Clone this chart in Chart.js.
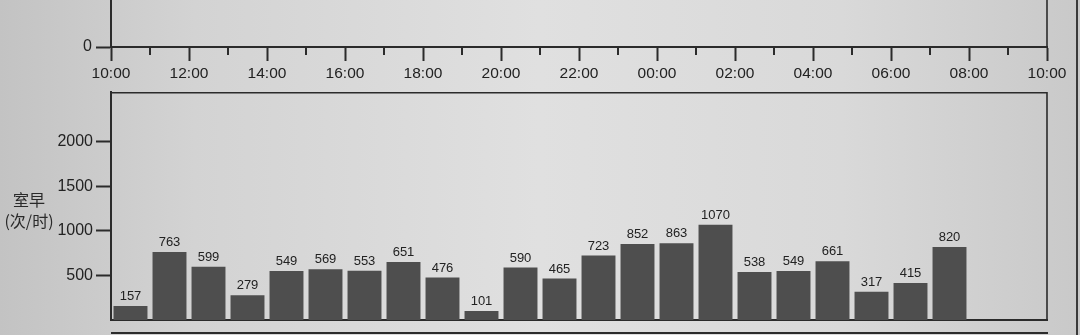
<!DOCTYPE html>
<html>
<head>
<meta charset="utf-8">
<script src="https://cdn.jsdelivr.net/npm/chart.js@4"></script>
<style>
html,body{margin:0;padding:0;}
body{width:1080px;height:335px;overflow:hidden;position:relative;
  background:linear-gradient(90deg,#c3c3c3 0%,#d3d3d3 18%,#e0e0e0 50%,#d9d9d9 78%,#c9c9c9 100%);
  font-family:"Liberation Sans",Arial,sans-serif;}
#topChart{position:absolute;left:0;top:0;}
#botChart{position:absolute;left:0;top:88px;}
#ytitle{position:absolute;left:0;width:58px;top:189px;text-align:center;font-size:16px;line-height:21px;color:#2a2a2a;
  font-family:"Noto Sans CJK SC","Liberation Sans",sans-serif;}
#nextline{position:absolute;left:111px;width:937px;top:332px;border-top:2px solid #2b2b2b;}
#edge{position:absolute;left:1076px;top:0;height:335px;border-left:2px solid #3a3a3a;}
</style>
</head>
<body>
<canvas id="topChart" width="1080" height="88"></canvas>
<canvas id="botChart" width="1080" height="247"></canvas>
<div id="ytitle">室早<br>(次/时)</div>
<div id="nextline"></div>
<div id="edge"></div>
<script>
// ---- data ----
const hourLabels = ['10:00','11:00','12:00','13:00','14:00','15:00','16:00','17:00','18:00','19:00','20:00','21:00',
                    '22:00','23:00','00:00','01:00','02:00','03:00','04:00','05:00','06:00','07:00','08:00','09:00'];
const timeTickLabels = ['10:00','12:00','14:00','16:00','18:00','20:00','22:00','00:00','02:00','04:00','06:00','08:00','10:00'];
const pvcValues = [157,763,599,279,549,569,553,651,476,101,590,465,723,852,863,1070,538,549,661,317,415,820];
const pvcTicks = [500,1000,1500,2000];
const topYTicks = [0];

const INK = '#2b2b2b';
const TXT = '#222222';
const FONT = '"Liberation Sans", Arial, sans-serif';

function framePlugin(sides){
  return {
    id:'frame',
    afterDraw(chart){
      const a = chart.chartArea, c = chart.ctx;
      c.save();
      c.strokeStyle = INK; c.lineWidth = 1.6;
      c.beginPath();
      if (sides.includes('top')) { c.moveTo(a.left, a.top + 0.8); c.lineTo(a.right, a.top + 0.8); }
      if (sides.includes('right')) { c.moveTo(a.right, a.top); c.lineTo(a.right, a.bottom); }
      c.stroke();
      c.restore();
    }
  };
}

const minorTickPlugin = {
  id:'minorTicks',
  afterDraw(chart){
    const s = chart.scales.x, c = chart.ctx;
    c.save();
    c.strokeStyle = INK; c.lineWidth = 2;
    c.beginPath();
    s.ticks.forEach(t => {
      if (t.value % 2 === 1) {
        const x = Math.round(s.getPixelForValue(t.value));
        c.moveTo(x, s.top); c.lineTo(x, s.top + 8);
      }
    });
    c.stroke();
    c.restore();
  }
};

const valueLabelPlugin = {
  id:'valueLabels',
  afterDatasetsDraw(chart){
    const c = chart.ctx;
    const meta = chart.getDatasetMeta(0);
    const vals = chart.data.datasets[0].data;
    c.save();
    c.fillStyle = TXT;
    c.font = '13px ' + FONT;
    c.textAlign = 'center';
    c.textBaseline = 'bottom';
    meta.data.forEach((el, i) => { c.fillText(String(vals[i]), el.x, el.y - 3); });
    c.restore();
  }
};

// ---- top panel (time axis) ----
new Chart(document.getElementById('topChart'), {
  type:'scatter',
  data:{ datasets:[{ data:[] }] },
  options:{
    responsive:false, animation:false, devicePixelRatio:1,
    layout:{ padding:{ top:0, right:33, bottom:0, left:0 } },
    plugins:{ legend:{display:false}, tooltip:{enabled:false} },
    scales:{
      x:{
        type:'linear', min:0, max:24,
        afterFit(s){ s.height = 41; },
        grid:{ display:true, drawOnChartArea:false, tickLength:14, tickWidth:2,
               tickColor:(ctx)=> (ctx.tick && ctx.tick.value % 2 === 0) ? INK : 'rgba(0,0,0,0)' },
        border:{ display:true, color:INK, width:2 },
        ticks:{ stepSize:1, autoSkip:false, maxRotation:0, padding:3, color:TXT, font:{ family:FONT, size:15.5 },
                callback:(v)=> v % 2 === 0 ? timeTickLabels[v/2] : '' }
      },
      y:{
        type:'linear', min:0, max:10,
        afterBuildTicks(s){ s.ticks = topYTicks.map(v=>({value:v})); },
        afterFit(s){ s.width = 111; s.paddingTop = 0; s.paddingBottom = 0; },
        grid:{ display:true, drawOnChartArea:false, tickLength:15, tickWidth:2, tickColor:INK },
        border:{ display:true, color:INK, width:2 },
        ticks:{ padding:4, color:TXT, font:{ family:FONT, size:16 }, callback:(v)=>String(v) }
      }
    }
  },
  plugins:[minorTickPlugin, framePlugin(['right'])]
});

// ---- bottom panel (PVC per hour) ----
new Chart(document.getElementById('botChart'), {
  type:'bar',
  data:{
    labels: hourLabels,
    datasets:[{ data: pvcValues, backgroundColor:'#4e4e4e', borderWidth:0,
                barPercentage:0.87, categoryPercentage:1.0 }]
  },
  options:{
    responsive:false, animation:false, devicePixelRatio:1,
    layout:{ padding:{ top:4, right:33, bottom:0, left:0 } },
    plugins:{ legend:{display:false}, tooltip:{enabled:false} },
    scales:{
      x:{
        afterFit(s){ s.height = 15; },
        grid:{ display:false },
        border:{ display:true, color:INK, width:2 },
        ticks:{ display:false }
      },
      y:{
        min:0, max:2560,
        afterBuildTicks(s){ s.ticks = pvcTicks.map(v=>({value:v})); },
        afterFit(s){ s.width = 111; s.paddingTop = 0; s.paddingBottom = 0; },
        grid:{ display:true, drawOnChartArea:false, tickLength:15, tickWidth:2, tickColor:INK },
        border:{ display:true, color:INK, width:2 },
        ticks:{ padding:3, color:TXT, font:{ family:FONT, size:16 }, callback:(v)=>String(v) }
      }
    }
  },
  plugins:[valueLabelPlugin, framePlugin(['top','right'])]
});
</script>
</body>
</html>
